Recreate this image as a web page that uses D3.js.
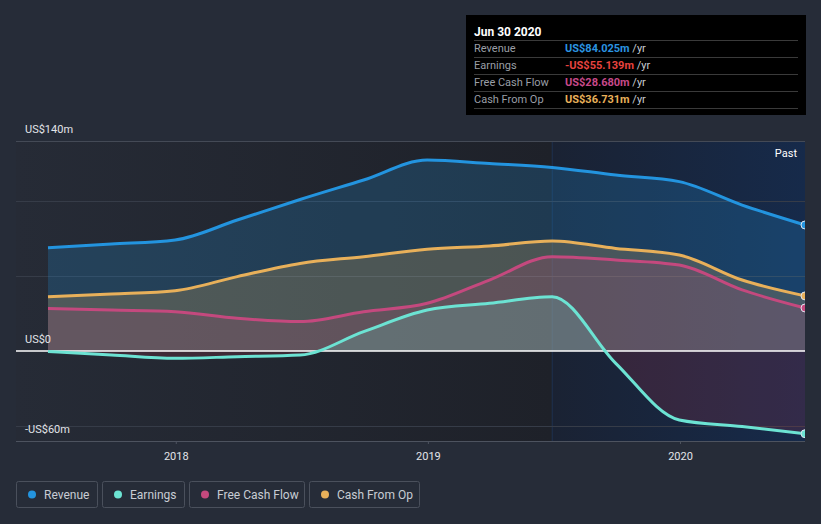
<!DOCTYPE html>
<html><head><meta charset="utf-8">
<script src="https://cdn.jsdelivr.net/npm/d3@7"></script>
<style>
html,body{margin:0;padding:0;background:#262c38;}
svg{display:block;font-family:Roboto,"Open Sans",sans-serif;}
</style></head>
<body><svg id="c" width="821" height="524"></svg>
<script>
const dateStrings = ["2017-06-30","2017-09-30","2017-12-31","2018-03-31","2018-06-30","2018-09-30","2018-12-31","2019-03-31","2019-06-30","2019-09-30","2019-12-31","2020-03-31","2020-06-30"];
const revenue = [68.9,71.3,74,87.3,101,114,127.3,125,122.4,117.3,112.9,97.3,84.025];
const earnings = [-0.3,-2.7,-4.9,-3.8,-2.7,12.9,27.3,31.8,36.2,-8.2,-46,-50.4,-55.139];
const fcf = [28.4,27.3,26.2,21.8,19.6,26.2,31.8,47.3,62.9,60.7,57.3,40.7,28.68];
const cfo = [36.2,38,40.2,49.6,58.4,62.9,67.8,70,73.3,68.4,64,47.3,36.731];
const yTicks = [140,0,-60];
const yTickLabels = ["US$140m","US$0","-US$60m"];
const gridVals = [100,50,-50];
const xTickStrings = ["2018-01-01","2019-01-01","2020-01-01"];
const pastStartString = "2019-06-30";
const seriesNames = ["Revenue","Earnings","Free Cash Flow","Cash From Op"];
const seriesColors = ["#2394df","#6ce3d3","#c4497e","#e8b05a"];
const tipTitle = "Jun 30 2020";
const tipValues = ["US$84.025m","-US$55.139m","US$28.680m","US$36.731m"];
const tipColors = ["#2b94e0","#e8433f","#c7498a","#e8b05a"];

const parse = d3.utcParse("%Y-%m-%d");
const dates = dateStrings.map(parse);
const xTicks = xTickStrings.map(parse);
const pastStart = parse(pastStartString);

const svg = d3.select("#c");
const L=16, R=805, T=141, B=441;
const x = d3.scaleUtc().domain([dates[0],dates[dates.length-1]]).range([48,805]);
const y = d3.scaleLinear().domain([-60,140]).range([B,T]);
const defs = svg.append("defs");

// backgrounds
const g1 = defs.append("linearGradient").attr("id","bgL").attr("x1",0).attr("x2",1).attr("y1",0).attr("y2",0);
g1.append("stop").attr("offset",0).attr("stop-color","#262b36");
g1.append("stop").attr("offset",1).attr("stop-color","#1e2129");
const g2 = defs.append("linearGradient").attr("id","bgR").attr("x1",0).attr("x2",1).attr("y1",0).attr("y2",0);
g2.append("stop").attr("offset",0).attr("stop-color","#1a2233");
g2.append("stop").attr("offset",1).attr("stop-color","#162a4a");
svg.append("rect").attr("x",L).attr("y",T).attr("width",x(pastStart)-L).attr("height",B-T).attr("fill","url(#bgL)");
svg.append("rect").attr("x",x(pastStart)).attr("y",T).attr("width",R-x(pastStart)).attr("height",B-T).attr("fill","url(#bgR)");
svg.append("line").attr("x1",x(pastStart)).attr("x2",x(pastStart)).attr("y1",T).attr("y2",B).attr("stroke","#1d3150").attr("stroke-width",1);

// grid
svg.append("line").attr("x1",L).attr("x2",R).attr("y1",y(140)+0.5).attr("y2",y(140)+0.5).attr("stroke","#444a56");
gridVals.forEach(v=>svg.append("line").attr("x1",L).attr("x2",R).attr("y1",Math.round(y(v))+0.5).attr("y2",Math.round(y(v))+0.5).attr("stroke","#363c48"));

// areas
const series = [revenue,earnings,fcf,cfo];
const curve = d3.curveMonotoneX;
defs.append("clipPath").attr("id","above").append("rect").attr("x",0).attr("y",0).attr("width",821).attr("height",y(0));
defs.append("clipPath").attr("id","below").append("rect").attr("x",0).attr("y",y(0)).attr("width",821).attr("height",524-y(0));
const areaGen = d3.area().x((d,i)=>x(dates[i])).y0(y(0)).y1(d=>y(d)).curve(curve);
const lineGen = d3.line().x((d,i)=>x(dates[i])).y(d=>y(d)).curve(curve);
const drawOrder=[0,3,2,1];
const alphas=[0.22,0.2,0.18,0.22];
drawOrder.forEach(k=>{
  svg.append("path").attr("d",areaGen(series[k])).attr("fill",seriesColors[k]).attr("fill-opacity",alphas[k]).attr("clip-path","url(#above)");
  if(k===1){
    svg.append("path").attr("d",areaGen(series[k])).attr("fill","#a8304a").attr("fill-opacity",0.2).attr("clip-path","url(#below)");
  } else {
    svg.append("path").attr("d",areaGen(series[k])).attr("fill",seriesColors[k]).attr("fill-opacity",alphas[k]).attr("clip-path","url(#below)");
  }
});
// zero line
svg.append("line").attr("x1",L).attr("x2",R).attr("y1",y(0)).attr("y2",y(0)).attr("stroke","#ffffff").attr("stroke-width",1.3);
// lines
drawOrder.forEach(k=>{
  svg.append("path").attr("d",lineGen(series[k])).attr("fill","none").attr("stroke",seriesColors[k]).attr("stroke-width",3);
});
// end dots
[0,3,2,1].forEach(k=>{
  const v=series[k][series[k].length-1];
  svg.append("circle").attr("cx",x(dates[dates.length-1])).attr("cy",y(v)).attr("r",4).attr("fill",seriesColors[k]).attr("stroke","#dfe6f0").attr("stroke-width",1);
});
// cover right of plot
svg.append("rect").attr("x",R).attr("y",0).attr("width",821-R).attr("height",524).attr("fill","#262c38");

// x axis
svg.append("line").attr("x1",L).attr("x2",R).attr("y1",B+0.5).attr("y2",B+0.5).attr("stroke","#4d535f");
const xa = d3.axisBottom(x).tickValues(xTicks).tickFormat(d3.utcFormat("%Y")).tickSize(3);
const xg = svg.append("g").attr("transform",`translate(0,${B})`).call(xa);
xg.select(".domain").remove();
xg.selectAll(".tick line").attr("stroke","#4d535f");
xg.selectAll(".tick text").attr("fill","#e2e4e8").attr("font-size",11).attr("dy","1.2em").style("font-family","Roboto");

// y labels
yTicks.forEach((v,i)=>{
  svg.append("text").attr("x",25).attr("y",y(v)-8).attr("fill","#e2e4e8").attr("font-size",11).text(yTickLabels[i]);
});
svg.append("text").attr("x",797).attr("y",157).attr("text-anchor","end").attr("fill","#ffffff").attr("font-size",11).text("Past");

// tooltip
const tip = svg.append("g");
tip.append("rect").attr("x",466).attr("y",15).attr("width",340).attr("height",100).attr("fill","#000000");
tip.append("text").attr("x",474).attr("y",36).attr("fill","#ffffff").attr("font-size",12).attr("font-weight","bold").text(tipTitle);
[40,57,74,91,108].forEach(yy=>tip.append("line").attr("x1",474).attr("x2",798).attr("y1",yy+0.5).attr("y2",yy+0.5).attr("stroke","#3a3a3a"));
seriesNames.forEach((n,i)=>{
  const yy=52+i*17;
  tip.append("text").attr("x",474).attr("y",yy).attr("fill","#9a9ea6").attr("font-size",11).text(n);
  const t=tip.append("text").attr("x",565).attr("y",yy).attr("font-size",11);
  t.append("tspan").attr("fill",tipColors[i]).attr("font-weight","bold").text(tipValues[i]);
  t.append("tspan").attr("fill","#c8ccd2").text(" /yr");
});

// legend
const lx=[16,102,189,309], lw=[81,82,115,110];
seriesNames.forEach((n,i)=>{
  const g=svg.append("g");
  g.append("rect").attr("x",lx[i]+0.5).attr("y",481.5).attr("width",lw[i]).attr("height",26).attr("rx",2).attr("fill","none").attr("stroke","#4a505c");
  g.append("circle").attr("cx",lx[i]+16).attr("cy",494.5).attr("r",4).attr("fill",seriesColors[i]);
  g.append("text").attr("x",lx[i]+28).attr("y",498.5).attr("fill","#c8ccd4").attr("font-size",12).text(n);
});
</script></body></html>
